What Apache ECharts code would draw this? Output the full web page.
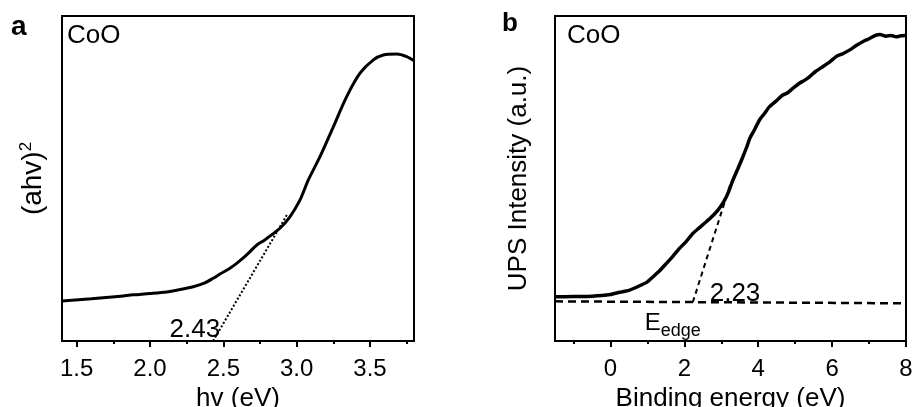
<!DOCTYPE html>
<html>
<head>
<meta charset="utf-8">
<script src="https://cdn.jsdelivr.net/npm/echarts@6/dist/echarts.min.js"></script>
<style>
  html, body { margin: 0; padding: 0; background: #fff; }
  #chart { width: 914px; height: 407px; }
</style>
</head>
<body>
<div id="chart"></div>
<script>
// Panel a: Tauc plot of CoO, (ahv)^2 versus photon energy
const taucEnergy = [1.40, 1.60, 1.80, 1.886, 2.00, 2.114, 2.20, 2.295, 2.37, 2.431, 2.477, 2.545, 2.591, 2.64, 2.682, 2.72, 2.745, 2.77, 2.80, 2.886, 2.954, 3.023, 3.079, 3.159, 3.25, 3.341, 3.432, 3.523, 3.591, 3.682, 3.75, 3.80];
const taucSignal = [0.123, 0.130, 0.138, 0.142, 0.146, 0.151, 0.158, 0.167, 0.178, 0.193, 0.206, 0.224, 0.239, 0.257, 0.275, 0.292, 0.301, 0.307, 0.317, 0.347, 0.382, 0.434, 0.495, 0.567, 0.659, 0.752, 0.824, 0.865, 0.880, 0.883, 0.875, 0.862];
// Linear extrapolation of the absorption edge (band gap 2.43 eV)
const bandGap = 2.43;
const taucFitEnergy = [bandGap, 2.94];
const taucFitSignal = [0, 0.393];
const taucTicks = [1.5, 2.0, 2.5, 3.0, 3.5];
const taucMinorTicks = [1.75, 2.25, 2.75, 3.25, 3.75];

// Panel b: UPS spectrum of CoO
const upsEnergy = [-1.5, -1.0, -0.5, 0, 0.25, 0.5, 0.79, 1.0, 1.15, 1.33, 1.51, 1.7, 1.87, 2.05, 2.23, 2.4, 2.595, 2.75, 2.91, 3.02, 3.135, 3.22, 3.315, 3.45, 3.585, 3.7, 3.77, 3.9, 4.035, 4.17, 4.305, 4.48, 4.665, 4.8, 4.935, 5.116, 5.25, 5.386, 5.56, 5.746, 5.93, 6.108, 6.29, 6.468, 6.65, 6.827, 7.0, 7.189, 7.3, 7.46, 7.6, 7.73, 7.86, 8.0];
const upsIntensity = [0.136, 0.137, 0.138, 0.143, 0.150, 0.156, 0.170, 0.182, 0.197, 0.216, 0.238, 0.262, 0.285, 0.306, 0.331, 0.348, 0.367, 0.383, 0.403, 0.420, 0.443, 0.466, 0.495, 0.530, 0.567, 0.600, 0.623, 0.650, 0.680, 0.700, 0.721, 0.738, 0.757, 0.764, 0.777, 0.793, 0.802, 0.813, 0.830, 0.844, 0.858, 0.875, 0.884, 0.895, 0.909, 0.921, 0.930, 0.941, 0.943, 0.938, 0.940, 0.936, 0.939, 0.941];
// Background level and valence-band edge extrapolation (E_edge = 2.23 eV)
const baseEnergy = [-1.5, 8.0];
const baseIntensity = [0.122, 0.116];
const edgeEnergy = 2.23;
const edgeFitEnergy = [edgeEnergy, 3.24];
const edgeFitIntensity = [0.1195, 0.48];
const upsTicks = [0, 2, 4, 6, 8];
const upsMinorTicks = [-1, 1, 3, 5, 7];

const zip = (xs, ys) => xs.map((x, i) => [x, ys[i]]);
const FONT = '"Liberation Sans", Arial, sans-serif';

function majorAxis(grid, min, max, ticks, name, fmt) {
  return {
    type: 'value', gridIndex: grid, position: 'bottom', min: min, max: max,
    name: name, nameLocation: 'middle', nameGap: 44,
    nameTextStyle: { fontFamily: FONT, fontSize: 26, color: '#000' },
    axisLine: { show: true, onZero: false, lineStyle: { color: '#000', width: 2 } },
    axisTick: { show: true, customValues: ticks, length: 6, lineStyle: { color: '#000', width: 2 } },
    axisLabel: { show: true, customValues: ticks, margin: 16, fontFamily: FONT, fontSize: 24, color: '#000', formatter: fmt },
    splitLine: { show: false }
  };
}
function minorAxis(grid, min, max, ticks) {
  return {
    type: 'value', gridIndex: grid, position: 'bottom', min: min, max: max,
    axisLine: { show: false, onZero: false },
    axisTick: { show: true, customValues: ticks, length: 3, lineStyle: { color: '#000', width: 2 } },
    axisLabel: { show: false },
    splitLine: { show: false }
  };
}
function yAxis(grid, name, gap, size) {
  return {
    type: 'value', gridIndex: grid, min: 0, max: 1,
    name: name, nameLocation: 'middle', nameRotate: 90, nameGap: gap,
    nameTextStyle: {
      fontFamily: FONT, fontSize: size, color: '#000', lineHeight: size + 2,
      rich: { sup: { fontFamily: FONT, fontSize: 17, lineHeight: 17, verticalAlign: 'top', color: '#000' } }
    },
    axisLine: { show: true, onZero: false, lineStyle: { color: '#000', width: 2 } },
    axisTick: { show: false }, axisLabel: { show: false }, splitLine: { show: false }
  };
}
function tag(x, y, value, text, pos, size) {
  return {
    type: 'scatter', xAxisIndex: x, yAxisIndex: y, symbolSize: 0, silent: true,
    itemStyle: { opacity: 1 },
    data: [value],
    label: {
      show: true, position: pos, distance: 1, formatter: text,
      fontFamily: FONT, fontSize: size, color: '#000', opacity: 1,
      rich: {
        e: { fontFamily: FONT, fontSize: 24, lineHeight: 24, verticalAlign: 'middle', color: '#000' },
        s: { fontFamily: FONT, fontSize: 18, lineHeight: 34, verticalAlign: 'bottom', color: '#000' }
      }
    }
  };
}

const chart = echarts.init(document.getElementById('chart'), null, { renderer: 'canvas' });
chart.setOption({
  animation: false,
  backgroundColor: '#fff',
  grid: [
    { left: 62, top: 16, width: 352, height: 325, outerBoundsMode: 'none', containLabel: false, show: true, borderColor: '#000', borderWidth: 2, backgroundColor: 'transparent' },
    { left: 555, top: 16, width: 351, height: 325, outerBoundsMode: 'none', containLabel: false, show: true, borderColor: '#000', borderWidth: 2, backgroundColor: 'transparent' }
  ],
  xAxis: [
    majorAxis(0, 1.4, 3.8, taucTicks, 'hv (eV)', v => v.toFixed(1)),
    minorAxis(0, 1.4, 3.8, taucMinorTicks),
    majorAxis(1, -1.5, 8, upsTicks, 'Binding energy (eV)', v => String(v)),
    minorAxis(1, -1.5, 8, upsMinorTicks)
  ],
  yAxis: [
    yAxis(0, '(ahv){sup|2}', 14, 28),
    yAxis(1, 'UPS Intensity (a.u.)', 22, 26)
  ],
  graphic: [
    { type: 'text', left: 11, top: 13, style: { text: 'a', fontFamily: FONT, fontSize: 28, fontWeight: 'bold', fill: '#000' } },
    { type: 'text', left: 502, top: 11, style: { text: 'b', fontFamily: FONT, fontSize: 26, fontWeight: 'bold', fill: '#000' } },
    { type: 'text', left: 67, top: 23, style: { text: 'CoO', fontFamily: FONT, fontSize: 26, fill: '#000' } },
    { type: 'text', left: 567, top: 23, style: { text: 'CoO', fontFamily: FONT, fontSize: 26, fill: '#000' } }
  ],
  series: [
    {
      type: 'line', xAxisIndex: 0, yAxisIndex: 0, symbol: 'none', smooth: 0.3,
      lineStyle: { color: '#000', width: 3 }, data: zip(taucEnergy, taucSignal)
    },
    {
      type: 'line', xAxisIndex: 0, yAxisIndex: 0, symbol: 'none',
      lineStyle: { color: '#000', width: 2, type: [2, 2] }, data: zip(taucFitEnergy, taucFitSignal)
    },
    tag(0, 0, [2.485, 0.035], String(bandGap.toFixed(2)), 'left', 26),
    {
      type: 'line', xAxisIndex: 2, yAxisIndex: 1, symbol: 'none', smooth: 0.2,
      lineStyle: { color: '#000', width: 3.5 }, data: zip(upsEnergy, upsIntensity)
    },
    {
      type: 'line', xAxisIndex: 2, yAxisIndex: 1, symbol: 'none',
      lineStyle: { color: '#000', width: 2.5, type: [8, 5] }, data: zip(baseEnergy, baseIntensity)
    },
    {
      type: 'line', xAxisIndex: 2, yAxisIndex: 1, symbol: 'none',
      lineStyle: { color: '#000', width: 2, type: [5, 4] }, data: zip(edgeFitEnergy, edgeFitIntensity)
    },
    tag(2, 1, [2.66, 0.146], String(edgeEnergy.toFixed(2)), 'right', 26),
    tag(2, 1, [0.9, 0.055], '{e|E}{s|edge}', 'right', 24)
  ]
});
</script>
</body>
</html>
